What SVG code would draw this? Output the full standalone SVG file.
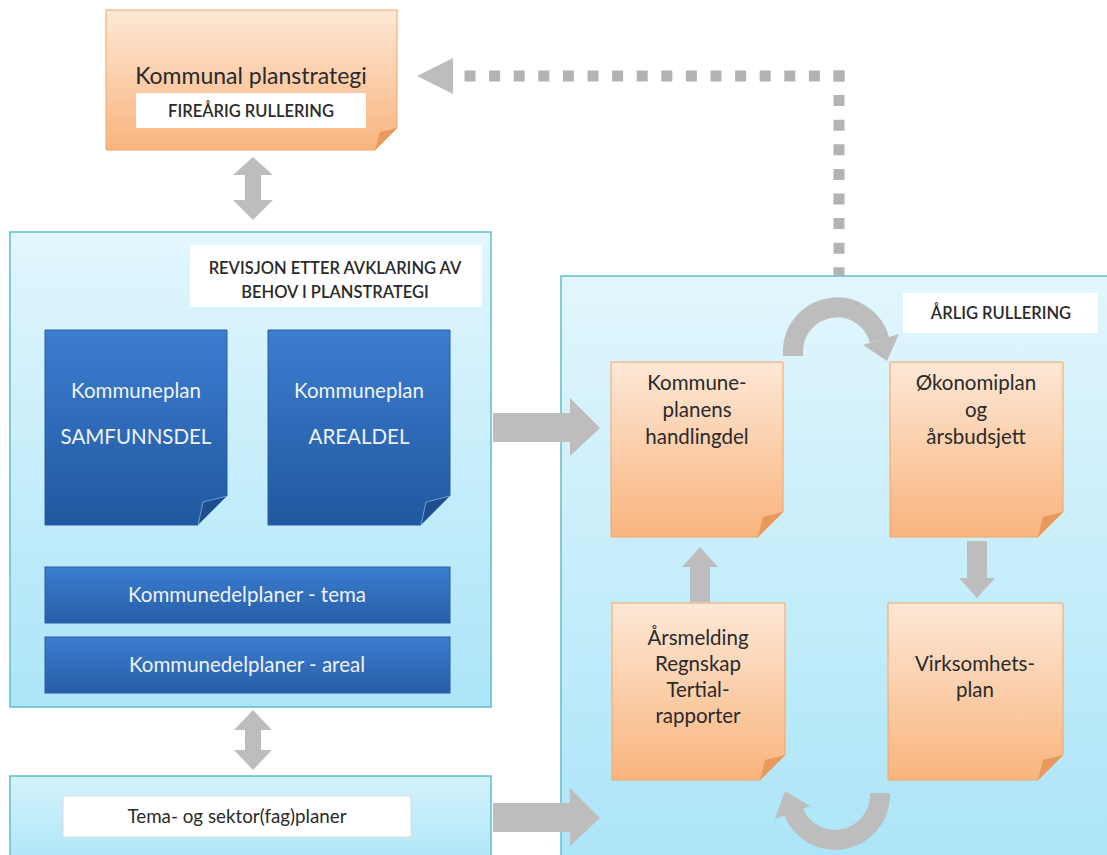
<svg xmlns="http://www.w3.org/2000/svg" width="1107" height="855" viewBox="0 0 1107 855">
<defs>
<linearGradient id="gBox" x1="0" y1="0" x2="0" y2="1"><stop offset="0" stop-color="#e2f6fd"/><stop offset="1" stop-color="#abe5f8"/></linearGradient>
<linearGradient id="gBox2" x1="0" y1="0" x2="0" y2="1"><stop offset="0" stop-color="#d4f2fc"/><stop offset="1" stop-color="#aee6f8"/></linearGradient>
<linearGradient id="gOr" x1="0" y1="0" x2="0" y2="1"><stop offset="0" stop-color="#fde8d6"/><stop offset="1" stop-color="#f9b47e"/></linearGradient>
<linearGradient id="gBlue" x1="0" y1="0" x2="0" y2="1"><stop offset="0" stop-color="#3c7dd0"/><stop offset="1" stop-color="#2157a0"/></linearGradient>
<linearGradient id="gBar" x1="0" y1="0" x2="0" y2="1"><stop offset="0" stop-color="#3b7dcf"/><stop offset="1" stop-color="#275ea8"/></linearGradient>
</defs>
<style>
.box{stroke:#62bccb;stroke-width:1.5}
.lbl{fill:#ffffff}
.or{fill:url(#gOr);stroke:#f2a466;stroke-width:1}
.orf{fill:#e89a5c}
.bl{fill:url(#gBlue);stroke:#2a5d9e;stroke-width:1}
.blf{fill:#1d4e8e;stroke:#6e9fd6;stroke-width:1}
.bar{fill:url(#gBar);stroke:#2a5d9e;stroke-width:1}
.t{font-family:Lato,"Liberation Sans",sans-serif;text-anchor:middle;fill:#2a2a2a}
.tw{font-family:Lato,"Liberation Sans",sans-serif;text-anchor:middle;fill:#eef3fa}
.cap{font-family:Lato,"Liberation Sans",sans-serif;text-anchor:middle;fill:#2a2a2a;font-weight:600;font-size:16.5px}
.ar{fill:#bdbdbd}
.arc{fill:none;stroke:#bdbdbd;stroke-width:20}
.dot{fill:none;stroke:#b3b3b3;stroke-width:11;stroke-dasharray:11 13.6}
</style>

<g id="kommunal-planstrategi">
  <path class="or" d="M106 10 H397 V128 L375 150 H106 Z"/>
  <polygon class="orf" points="375,150 380,132 397,128"/>
  <rect class="lbl" x="136" y="93" width="230" height="35"/>
  <text class="t" x="251" y="84" font-size="23">Kommunal planstrategi</text>
  <text class="cap" x="251" y="117">FIREÅRIG RULLERING</text>
</g>

<g id="kommuneplan-container">
  <rect class="box" x="10" y="232" width="481" height="475" fill="url(#gBox)"/>
  <rect class="lbl" x="190" y="245" width="292" height="62"/>
  <text class="cap" x="335" y="274">REVISJON ETTER AVKLARING AV</text>
  <text class="cap" x="335" y="298">BEHOV I PLANSTRATEGI</text>
</g>

<g id="samfunnsdel">
  <path class="bl" d="M45 330 H227 V496 L198 525 H45 Z"/>
  <polygon class="blf" points="198,525 203,502 227,496"/>
  <text class="tw" x="136" y="398" font-size="20.5">Kommuneplan</text>
  <text class="tw" x="136" y="444" font-size="20.5">SAMFUNNSDEL</text>
</g>

<g id="arealdel">
  <path class="bl" d="M268 330 H450 V496 L421 525 H268 Z"/>
  <polygon class="blf" points="421,525 426,502 450,496"/>
  <text class="tw" x="359" y="398" font-size="20.5">Kommuneplan</text>
  <text class="tw" x="359" y="444" font-size="20.5">AREALDEL</text>
</g>

<g id="kommunedelplaner-tema">
  <rect class="bar" x="45" y="567" width="405" height="56"/>
  <text class="tw" x="247" y="602" font-size="20.5">Kommunedelplaner - tema</text>
</g>

<g id="kommunedelplaner-areal">
  <rect class="bar" x="45" y="637" width="405" height="56"/>
  <text class="tw" x="247" y="672" font-size="20.5">Kommunedelplaner - areal</text>
</g>

<g id="tema-sektorplaner">
  <rect class="box" x="10" y="776" width="481" height="90" fill="url(#gBox2)"/>
  <rect x="63" y="796" width="348" height="41" fill="#ffffff" stroke="#d9d9d9" stroke-width="1"/>
  <text class="t" x="237" y="823" font-size="18.8">Tema- og sektor(fag)planer</text>
</g>

<g id="arlig-container">
  <rect class="box" x="561" y="276" width="560" height="590" fill="url(#gBox)"/>
  <rect class="lbl" x="903" y="293" width="195" height="40"/>
  <text class="cap" x="1001" y="319">ÅRLIG RULLERING</text>
</g>

<g id="handlingdel">
  <path class="or" d="M611 362 H783 V512 L758 537 H611 Z"/>
  <polygon class="orf" points="758,537 763,517 783,512"/>
  <text class="t" x="697" y="390" font-size="20.5">Kommune-</text>
  <text class="t" x="697" y="417" font-size="20.5">planens</text>
  <text class="t" x="697" y="444" font-size="20.5">handlingdel</text>
</g>

<g id="okonomiplan">
  <path class="or" d="M890 362 H1063 V512 L1038 537 H890 Z"/>
  <polygon class="orf" points="1038,537 1043,517 1063,512"/>
  <text class="t" x="976" y="390" font-size="20.5">Økonomiplan</text>
  <text class="t" x="976" y="417" font-size="20.5">og</text>
  <text class="t" x="976" y="444" font-size="20.5">årsbudsjett</text>
</g>

<g id="arsmelding">
  <path class="or" d="M612 603 H785 V755 L760 780 H612 Z"/>
  <polygon class="orf" points="760,780 765,760 785,755"/>
  <text class="t" x="698" y="645" font-size="20.5">Årsmelding</text>
  <text class="t" x="698" y="671" font-size="20.5">Regnskap</text>
  <text class="t" x="698" y="697" font-size="20.5">Tertial-</text>
  <text class="t" x="698" y="723" font-size="20.5">rapporter</text>
</g>

<g id="virksomhetsplan">
  <path class="or" d="M888 603 H1063 V755 L1038 780 H888 Z"/>
  <polygon class="orf" points="1038,780 1043,760 1063,755"/>
  <text class="t" x="975" y="671" font-size="20.5">Virksomhets-</text>
  <text class="t" x="975" y="697" font-size="20.5">plan</text>
</g>

<g id="connectors">
  <path class="dot" d="M844.5 76 H462"/>
  <path class="dot" d="M839 70.5 V276"/>
  <polygon class="ar" points="417,76 453,58 453,94"/>
  <polygon class="ar" points="253,157 273,175 261,175 261,200 273,200 253,220 233,200 245,200 245,175 233,175"/>
  <polygon class="ar" points="253,710 272,730 261,730 261,750 272,750 253,770 234,750 245,750 245,730 234,730"/>
  <polygon class="ar" points="493,413 570,413 570,398 600,428 570,456 570,442 493,442"/>
  <polygon class="ar" points="493,803 570,803 570,788 600,818 570,846 570,832 493,832"/>
  <polygon class="ar" points="700,547 718,567 710,567 710,602 690,602 690,567 682,567"/>
  <polygon class="ar" points="967,541 987,541 987,578 995,578 977,598 959,578 967,578"/>
  <path class="arc" d="M793 356 V352 A44 44 0 0 1 879.5 340"/>
  <polygon class="ar" points="863,345 899,334 887,361"/>
  <path class="arc" d="M880 793 V797 A45 45 0 0 1 793.5 812"/>
  <polygon class="ar" points="775,819 810,806 785,791"/>
</g>
</svg>
